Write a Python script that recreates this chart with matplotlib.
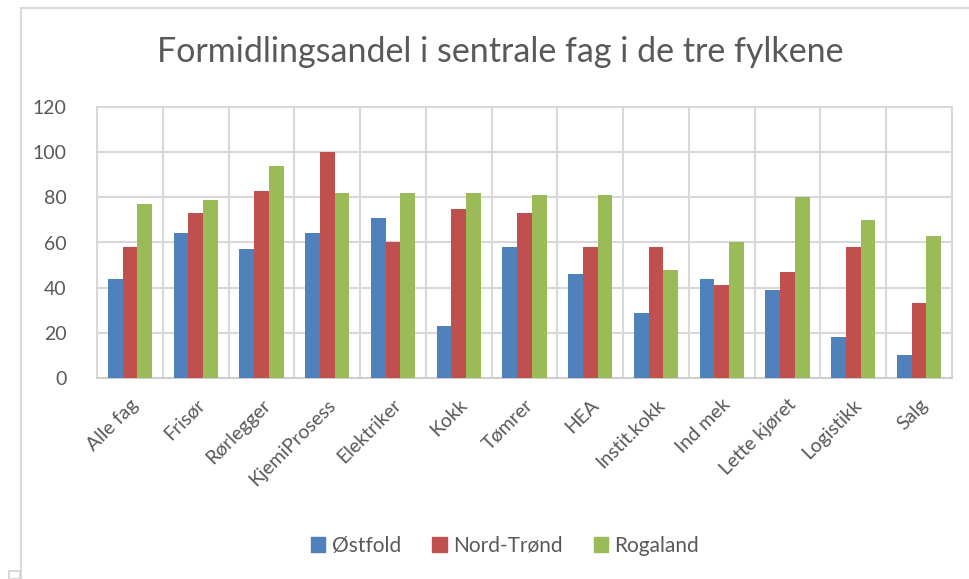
import numpy as np
import matplotlib
matplotlib.use('Agg')
import matplotlib.pyplot as plt
from matplotlib import rcParams
from matplotlib.lines import Line2D
from matplotlib.patches import Rectangle

rcParams['font.family'] = ['Lato', 'DejaVu Sans']

fag = ['Alle fag', 'Frisør', 'Rørlegger', 'KjemiProsess', 'Elektriker', 'Kokk',
       'Tømrer', 'HEA', 'Instit.kokk', 'Ind mek', 'Lette kjøret', 'Logistikk', 'Salg']
ostfold = [44, 64, 57, 64, 71, 23, 58, 46, 29, 44, 39, 18, 10]
nord_trond = [58, 73, 83, 100, 60, 75, 73, 58, 58, 41, 47, 58, 33]
rogaland = [77, 79, 94, 82, 82, 82, 81, 81, 48, 60, 80, 70, 63]
series_names = ['Østfold', 'Nord-Trønd', 'Rogaland']
yticks = [0, 20, 40, 60, 80, 100, 120]

colors = ['#4F81BD', '#C0504D', '#9BBB59']
text_col = '#595959'
grid_col = '#D9D9D9'

W, H = 970, 579
fig = plt.figure(figsize=(W / 100, H / 100), dpi=100)
# plot area in pixel coords: left 97, right 952, top 107, bottom 378
ax = fig.add_axes([97 / W, 1 - 378 / H, (952 - 97) / W, (378 - 107) / H])

x = np.arange(len(fag))
bw = 0.224
for i, vals in enumerate([ostfold, nord_trond, rogaland]):
    ax.bar(x + (i - 1) * bw, vals, width=bw, color=colors[i], zorder=3,
           edgecolor='none', label=series_names[i])

ax.set_xlim(-0.5, len(fag) - 0.5)
ax.set_ylim(0, 120)
ax.set_yticks(yticks)
ax.set_xticks(x)
ax.set_xticklabels(fag, rotation=45, ha='right', rotation_mode='anchor')
ax.set_xticks(np.arange(len(fag) + 1) - 0.5, minor=True)
ax.tick_params(axis='both', which='both', length=0, colors=text_col, labelsize=14)
ax.tick_params(axis='x', which='major', pad=13)
ax.tick_params(axis='y', pad=22)
ax.grid(True, which='minor', axis='x', color=grid_col, lw=1.5, zorder=0)
ax.grid(True, which='major', axis='y', color=grid_col, lw=1.5, zorder=0)
ax.grid(False, which='major', axis='x')
for s in ax.spines.values():
    s.set_color(grid_col)
    s.set_linewidth(1.5)
ax.spines['bottom'].set_color('#CFCFCF')

fig.text(500 / W, 1 - 52 / H, 'Formidlingsandel i sentrale fag i de tre fylkene',
         ha='center', va='center', fontsize=24.5, color=text_col)

handles = [Rectangle((0, 0), 1, 1, color=c) for c in colors]
fig.legend(handles, series_names, loc='center', bbox_to_anchor=(505 / W, 1 - 546 / H),
           ncol=3, frameon=False, fontsize=15, labelcolor=text_col,
           handlelength=0.7, handleheight=0.7, handletextpad=0.3, columnspacing=1.5)

# chart area border (partially visible)
fig.add_artist(Line2D([21 / W, 21 / W], [0, 1 - 8 / H], color='#D9D9D9', lw=1.5,
                      transform=fig.transFigure))
fig.add_artist(Line2D([21 / W, 1], [1 - 8 / H, 1 - 8 / H], color='#D9D9D9', lw=1.5,
                      transform=fig.transFigure))
fig.add_artist(Rectangle((9 / W, 0), 11 / W, 8 / H, fill=False, ec='#D9D9D9', lw=1.5,
                         transform=fig.transFigure))

fig.savefig('out.png', dpi=100)
